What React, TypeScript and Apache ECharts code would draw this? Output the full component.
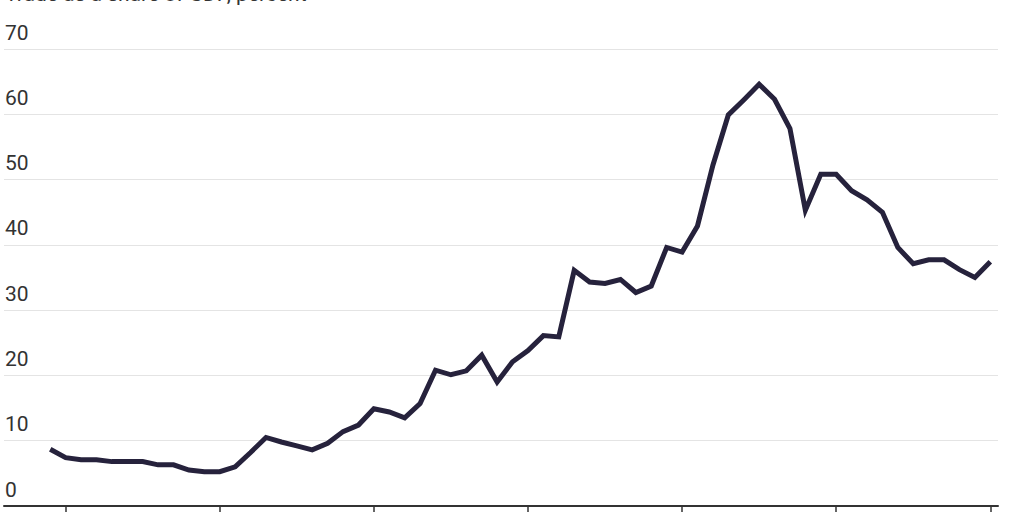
import React, { useEffect, useRef } from "react";
import * as echarts from "echarts";

const years: number[] = [];
for (let y = 1960; y <= 2021; y++) years.push(y);

const tradeShare: number[] = [
  8.7, 7.4, 7.1, 7.1, 6.8, 6.8, 6.8, 6.3, 6.3, 5.5,
  5.25, 5.25, 6.0, 8.2, 10.5, 9.8, 9.2, 8.6, 9.6, 11.4,
  12.4, 14.9, 14.4, 13.5, 15.7, 20.8, 20.1, 20.7, 23.1, 19.0,
  22.1, 23.8, 26.1, 25.9, 36.1, 34.3, 34.1, 34.7, 32.7, 33.7,
  39.6, 38.9, 42.9, 52.2, 59.9, 62.2, 64.6, 62.3, 57.8, 45.3,
  50.8, 50.8, 48.3, 46.9, 45.0, 39.6, 37.1, 37.7, 37.7, 36.2,
  35.0, 37.4,
];

const tickYears: number[] = [1961, 1971, 1981, 1991, 2001, 2011, 2021];
const titleText = "Trade as a share of GDP, percent";

export default function App() {
  const ref = useRef<HTMLDivElement>(null);
  useEffect(() => {
    if (!ref.current) return;
    const chart = echarts.init(ref.current, null, { renderer: "svg" });
    const font = "Roboto, 'Noto Sans', sans-serif";
    chart.setOption({
      animation: false,
      backgroundColor: "#ffffff",
      grid: { left: 4, right: 26, top: 49, bottom: 6, containLabel: false },
      graphic: [
        {
          type: "text",
          left: 5,
          top: -17,
          style: {
            text: titleText,
            fontFamily: font,
            fontSize: 21,
            fill: "#333333",
          },
        },
      ],
      xAxis: {
        type: "value",
        min: 1957,
        max: 2021.5,
        axisLine: { show: true, lineStyle: { color: "#333333", width: 2 } },
        axisTick: {
          show: true,
          length: 7,
          customValues: tickYears,
          lineStyle: { color: "#333333", width: 1.5 },
        },
        axisLabel: { show: false },
        splitLine: { show: false },
      },
      yAxis: {
        type: "value",
        min: 0,
        max: 70,
        interval: 10,
        axisLine: { show: false },
        axisTick: { show: false },
        splitLine: { show: true, lineStyle: { color: "#e4e4e4", width: 1 } },
        axisLabel: {
          inside: true,
          margin: 1,
          align: "left",
          verticalAlign: "bottom",
          lineHeight: 21,
          padding: [0, 0, 6, 0],
          fontFamily: font,
          fontSize: 21,
          color: "#333333",
        },
      },
      series: [
        {
          type: "line",
          data: years.map((y, i) => [y, tradeShare[i]]),
          showSymbol: false,
          symbol: "none",
          lineStyle: { color: "#26223c", width: 5, join: "miter" },
          z: 5,
        },
      ],
    });
    return () => chart.dispose();
  }, []);
  return <div ref={ref} style={{ width: 1024, height: 512, position: "absolute", left: 0, top: 0 }} />;
}
